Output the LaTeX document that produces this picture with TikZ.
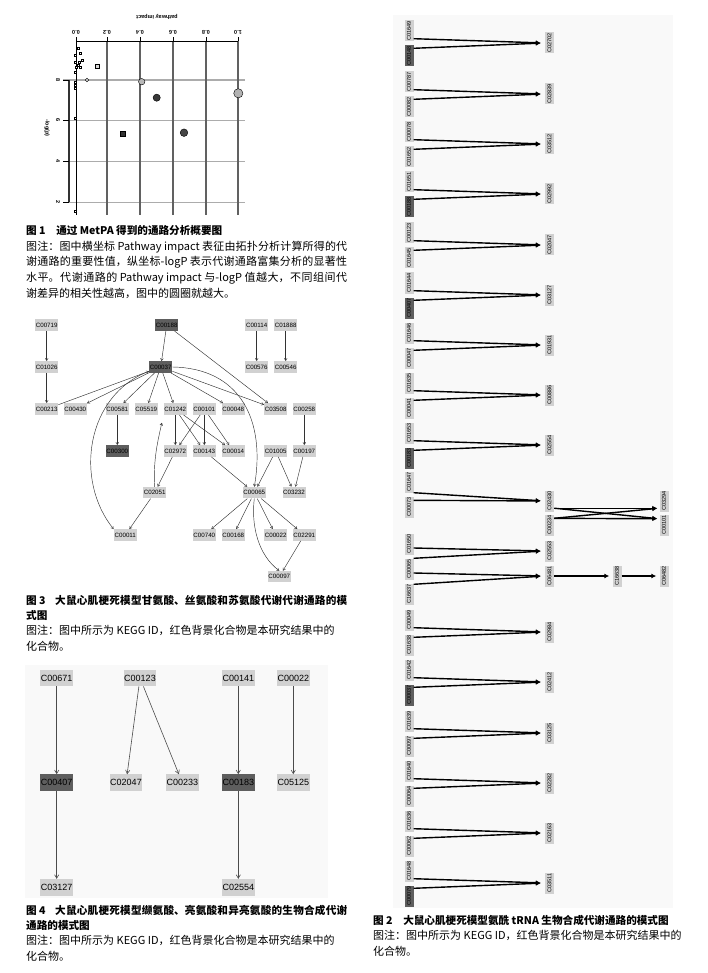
\documentclass[tikz,border=0pt]{standalone}
\usepackage{fontspec}
\usepackage{graphicx}
\setmainfont{Liberation Sans}
\newfontfamily\cjk{Noto Sans CJK SC}
\XeTeXlinebreaklocale "zh"
\XeTeXlinebreakskip=0pt plus 1fil
\usetikzlibrary{arrows.meta}
\definecolor{cpdfill}{gray}{0.82}
\definecolor{hitfill}{gray}{0.37}
\definecolor{panelbg}{gray}{0.975}
\newcommand{\vid}[1]{\rotatebox{90}{#1}}
\newcommand{\fullline}[1]{\parbox{321pt}{\parfillskip=0pt\relax #1}}
\tikzset{
  cpd/.style={fill=cpdfill, inner sep=0.3pt, minimum width=23pt, minimum height=11.5pt, font=\fontsize{6.2}{6.2}\selectfont},
  cpdhit/.style={cpd, fill=hitfill},
  cpdbig/.style={fill=cpdfill, inner sep=0.5pt, minimum width=32pt, minimum height=16.5pt, font=\fontsize{9}{9}\selectfont},
  cpdbighit/.style={cpdbig, fill=hitfill},
  trna/.style={fill=cpdfill, inner sep=0pt, minimum width=9pt, minimum height=21pt, font=\fontsize{5.6}{5.6}\selectfont},
  trnahit/.style={trna, fill=hitfill},
  thinarr/.style={-{Straight Barb[length=2.3pt,width=2.8pt]}, line width=0.45pt, black!80},
  midarr/.style={-{Straight Barb[length=3.6pt,width=4.2pt]}, line width=0.6pt, black!70},
  fatarr/.style={-{Latex[length=5pt,width=5pt]}, line width=1.4pt},
  capt/.style={anchor=west, inner sep=0pt, font=\cjk\fontsize{11}{12}\selectfont},
  captb/.style={capt, font=\cjk\bfseries\fontsize{10.6}{12}\selectfont},
  plotlab/.style={inner sep=0pt, font=\bfseries\fontsize{5.5}{5.5}\selectfont},
  gridln/.style={gray!65, line width=0.7pt},
  dot/.style={draw=black, line width=0.4pt},
}

\begin{document}
\begin{tikzpicture}[x=1pt,y=-1pt]
  \useasboundingbox (0,0) rectangle (708,973);

  % ---- fig 1: MetPA overview (scan is upside down)
  \foreach \yy/\lw in {80/1.8pt,120/0.7pt,161/0.7pt,202/0.7pt}
    \draw[gridln, line width=\lw] (63,\yy) -- (245,\yy);
  \foreach \xx in {107,140,173,206,238}
    \draw[black!62, line width=1.4pt] (\xx,41) -- (\xx,215);
  \draw[line width=0.6pt] (76,41) -- (76,215);
  \draw[line width=0.6pt] (76,41) -- (238,41);
  \draw[black!80, line width=1.4pt] (69,80) -- (69,202);
  \foreach \xx/\tl in {76/0.0,107/0.2,140/0.4,173/0.6,206/0.8,238/1.0} {
    \draw[line width=0.5pt] (\xx,41) -- (\xx,37);
    \node[plotlab, rotate=180] (xt\xx) at (\xx,32) {\tl};
  }
  \foreach \yy/\tl in {80/8,120/6,161/4,202/2} {
    \draw[line width=0.5pt] (63,\yy) -- (69,\yy);
    \node[plotlab, rotate=-90] (yt\yy) at (58,\yy) {\tl};
  }
  \node[plotlab] (xname) [rotate=180] at (157,17) {pathway impact};
  \node[plotlab] (yname) [rotate=-90] at (47,128) {-log(p)};
  % small pathways near zero impact
  \foreach \px/\py in {78/48,80/53,82/60,79/62,78/65,80/67,75/55,75/62,76/67,75/72,75/82,75/85,75/88,75/118,75/211}
    \draw[dot, fill=white] (\px-1.2,\py-1.2) rectangle (\px+1.2,\py+1.2);
  \draw[dot, fill=gray!30] (95,64) rectangle (99,68);
  \draw[dot, fill=gray!40] (87,80) circle (1.8);
  % the larger pathways
  \draw[dot, fill=gray!55] (141.7,81.7) circle (3.2);
  \draw[dot, fill=gray!45!black] (156.7,97.7) circle (3.6);
  \draw[dot, fill=gray!60] (238.3,93.3) circle (4.6);
  \draw[dot, fill=gray!55!black] (184,132.7) circle (3.8);
  \draw[dot, fill=gray!40!black] (120.2,131.5) rectangle (125.2,136.5);

  \node[captb] (cap1a) at (26,230) {图 1\hspace{1em}通过 MetPA 得到的通路分析概要图};
  \node[capt] (cap1b) at (26,247) {\fullline{图注：图中横坐标 Pathway impact 表征由拓扑分析计算所得的代}};
  \node[capt] (cap1c) at (26,262.5) {\fullline{谢通路的重要性值，纵坐标-logP 表示代谢通路富集分析的显著性}};
  \node[capt] (cap1d) at (26,278) {\fullline{水平。代谢通路的 Pathway impact 与-logP 值越大，不同组间代}};
  \node[capt] (cap1e) at (26,293.5) {谢差异的相关性越高，图中的圆圈就越大。};

  % ---- fig 3: glycine, serine and threonine metabolism
  \foreach \n/\x in {C00719/46.7,C00114/256.7,C01888/285.7}
    \node[cpd] (g\n) at (\x,325) {\n};
  \node[cpdhit] (gC00188) at (166.7,325) {C00188};
  \foreach \n/\x in {C01026/46.7,C00576/256.7,C00546/285.7}
    \node[cpd] (g\n) at (\x,367) {\n};
  \node[cpdhit] (gC00037) at (160.7,367) {C00037};
  \foreach \n/\x in {C00213/46.7,C00430/75.3,C00581/117.3,C05519/146.3,C01242/175.3,C00101/204.3,C00048/233.3,C03508/275.7,C00258/304.3}
    \node[cpd] (g\n) at (\x,409) {\n};
  \node[cpdhit] (gC00300) at (117.3,451) {C00300};
  \foreach \n/\x in {C02972/175.3,C00143/204.3,C00014/233.3,C01005/275.7,C00197/304.3}
    \node[cpd] (g\n) at (\x,451) {\n};
  \foreach \n/\x in {C02051/154.7,C00065/254.3,C03232/294}
    \node[cpd] (g\n) at (\x,492.7) {\n};
  \foreach \n/\x in {C00011/125.3,C00740/204.3,C00168/233.3,C00022/275.7,C02291/304.3}
    \node[cpd] (g\n) at (\x,535) {\n};
  \node[cpd] (gC00097) at (279.3,576.7) {C00097};
  \foreach \a/\b in {C00719/C01026,C01026/C00213,C00188/C00037,C00188/C03508,C00114/C00576,
      C01888/C00546,C00213/C00037,C00037/C00430,C00037/C00581,C00037/C05519,C00037/C01242,
      C00037/C00048,C00037/C03508,C00581/C00300,C00258/C00197,C01242/C02972,C01242/C00143,
      C01242/C00014,C00101/C02972,C00101/C00143,C00101/C00014,C02972/C02051,C00143/C00065,
      C01005/C00065,C01005/C03232,C00197/C03232,C02051/C00011,C00065/C00740,C00065/C00168,
      C00065/C00022,C00065/C02291,C02291/C00097}
    \draw[thinarr] (g\a) -- (g\b);
  % bent edges
  \draw[thinarr] (gC00037.200) .. controls (86,395) and (74,480) .. (gC00011.north west);
  \draw[thinarr] (gC00037.east) .. controls (240,368) and (266,420) .. (gC00065.north);
  \draw[thinarr, shorten >=8pt] (gC02051.north) .. controls (153,460) and (158,440) .. (gC01242.south west);
  \draw[thinarr] (gC00065.south) .. controls (251,525) and (258,555) .. (gC00097.north);

  \node[captb] (cap3a) at (26,600) {\fullline{图 3\hspace{0.9em}大鼠心肌梗死模型甘氨酸、丝氨酸和苏氨酸代谢代谢通路的模}};
  \node[captb] (cap3b) at (26,615) {式图};
  \node[capt] (cap3c) at (26,630.5) {图注：图中所示为 KEGG ID，红色背景化合物是本研究结果中的};
  \node[capt] (cap3d) at (26,646) {化合物。};

  % ---- fig 4: valine, leucine and isoleucine biosynthesis
  \fill[panelbg] (25,665) rectangle (328,898);
  \foreach \n/\x in {C00671/56.7,C00123/140,C00141/238.3,C00022/293.3}
    \node[cpdbig] (v\n) at (\x,678) {\n};
  \foreach \n/\x in {C02047/126,C00233/182.3,C05125/293.3}
    \node[cpdbig] (v\n) at (\x,782.7) {\n};
  \node[cpdbighit] (vC00407) at (56.7,782.7) {C00407};
  \node[cpdbighit] (vC00183) at (238.3,782.7) {C00183};
  \foreach \n/\x in {C03127/56.7,C02554/238.3}
    \node[cpdbig] (v\n) at (\x,887.3) {\n};
  \foreach \a/\b in {C00671/C00407,C00407/C03127,C00123/C02047,C00123/C00233,
      C00141/C00183,C00183/C02554,C00022/C05125}
    \draw[midarr] (v\a) -- (v\b);

  \node[captb] (cap4a) at (26,910) {\fullline{图 4\hspace{0.9em}大鼠心肌梗死模型缬氨酸、亮氨酸和异亮氨酸的生物合成代谢}};
  \node[captb] (cap4b) at (26,925) {通路的模式图};
  \node[capt] (cap4c) at (26,940.5) {图注：图中所示为 KEGG ID，红色背景化合物是本研究结果中的};
  \node[capt] (cap4d) at (26,956) {化合物。};

  % ---- fig 2: aminoacyl-tRNA biosynthesis
  \fill[panelbg] (393,15) rectangle (673,908);
  \foreach \up/\dn/\dnst/\tg/\ty [count=\i] in {
      C01649/C00148/trnahit/C02702/43, C00787/C00082/trna/C02839/94,
      C00078/C01652/trna/C03512/144, C01651/C00188/trnahit/C02992/194,
      C00123/C01645/trna/C02047/245, C01644/C00407/trnahit/C03127/295,
      C01646/C00047/trna/C01931/345, C01635/C00041/trna/C00886/395,
      C01653/C00183/trnahit/C02554/445, C00049/C01638/trna/C02984/632,
      C01642/C00037/trnahit/C02412/682, C01639/C00097/trna/C03125/733,
      C01640/C00064/trna/C02282/783, C01636/C00062/trna/C02163/833,
      C01648/C00079/trnahit/C03511/883} {
    \node[trna] (u\i) at (409,\ty-12) {\vid{\up}};
    \node[\dnst] (d\i) at (409,\ty+13) {\vid{\dn}};
    \node[trna] (t\i) at (549.5,\ty) {\vid{\tg}};
    \draw[fatarr, shorten >=4pt] ([yshift=3pt]u\i.south east) -- (t\i.west);
    \draw[fatarr, shorten >=4pt] ([yshift=-3pt]d\i.north east) -- (t\i.west);
  }
  % methionine branch
  \node[trna] (met1) at (409,482) {\vid{C01647}};
  \node[trna] (met2) at (409,507) {\vid{C00073}};
  \node[trna] (mettrna) at (549.5,501) {\vid{C02430}};
  \node[trna] (fthf) at (549.5,525) {\vid{C00234}};
  \node[trna] (fmet) at (664,501) {\vid{C03294}};
  \node[trna] (thf) at (664,525) {\vid{C00101}};
  \draw[fatarr, shorten >=4pt] (met1.south east) -- (mettrna.west);
  \draw[fatarr, shorten >=4pt] ([yshift=-4pt]met2.north east) -- (mettrna.west);
  \draw[fatarr, shorten >=2pt] ([yshift=3.5pt]mettrna.south east) -- ([yshift=3.5pt]fmet.south west);
  \draw[fatarr, shorten >=2pt] ([yshift=3.5pt]mettrna.south east) -- ([yshift=-4.5pt]thf.north west);
  \draw[fatarr, shorten >=2pt] ([yshift=-4pt]fthf.north east) -- ([yshift=3.5pt]fmet.south west);
  \draw[fatarr, shorten >=2pt] ([yshift=-4pt]fthf.north east) -- ([yshift=-4.5pt]thf.north west);
  % serine / selenocysteine branch
  \node[trna] (sera) at (409,544) {\vid{C01650}};
  \node[trna] (serb) at (409,569) {\vid{C00065}};
  \node[trna] (serc) at (409,594) {\vid{C16637}};
  \node[trna] (sertrna) at (549.5,551) {\vid{C02553}};
  \node[trna] (sectrna) at (549.5,576) {\vid{C06481}};
  \node[trna] (psec) at (617,576) {\vid{C16638}};
  \node[trna] (secys) at (664,576) {\vid{C06482}};
  \draw[fatarr, shorten >=4pt] ([yshift=-4pt]sera.east) -- (sertrna.west);
  \draw[fatarr, shorten >=4pt] (serb.north east) -- (sertrna.west);
  \draw[fatarr, shorten >=4pt] ([yshift=-4pt]serb.east) -- (sectrna.west);
  \draw[fatarr, shorten >=4pt] ([yshift=-1pt]serc.north east) -- (sectrna.west);
  \draw[fatarr, shorten >=3pt] (sectrna) -- (psec);
  \draw[fatarr, shorten >=3pt] (psec) -- (secys);

  \node[captb] (cap2a) at (373,920) {图 2\hspace{1em}大鼠心肌梗死模型氨酰 tRNA 生物合成代谢通路的模式图};
  \node[capt] (cap2b) at (373,935.5) {图注：图中所示为 KEGG ID，红色背景化合物是本研究结果中的};
  \node[capt] (cap2c) at (373,951) {化合物。};
\end{tikzpicture}
\end{document}
